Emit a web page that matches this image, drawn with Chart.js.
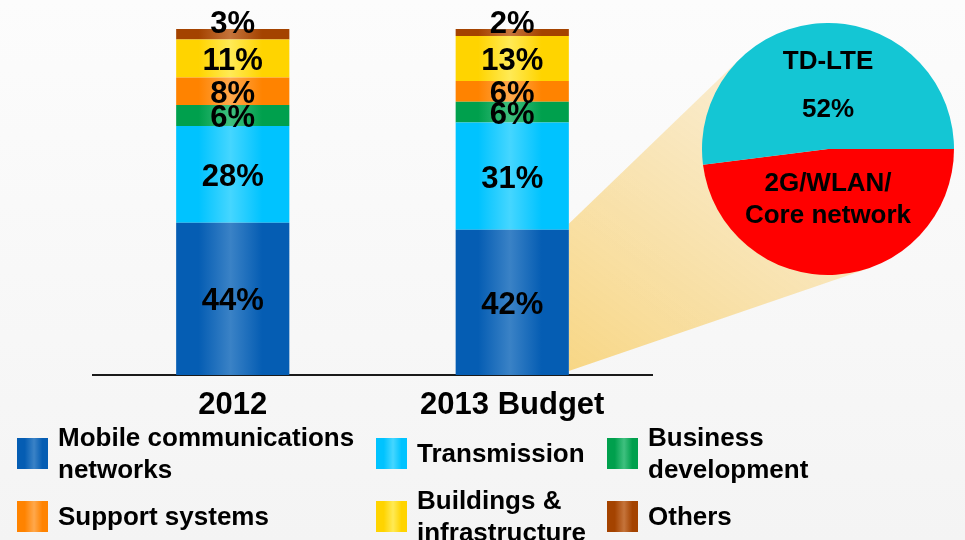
<!DOCTYPE html>
<html>
<head>
<meta charset="utf-8">
<script src="https://cdn.jsdelivr.net/npm/chart.js@4"></script>
<style>
  body {
    margin: 0;
    width: 965px;
    height: 540px;
    overflow: hidden;
    position: relative;
    background: linear-gradient(#fcfcfc, #f4f4f4);
    font-family: "Liberation Sans", Arial, sans-serif;
  }
  #barChart { position: absolute; left: 0; top: 0; z-index: 1; }
  #pieChart { position: absolute; left: 702px; top: 23px; z-index: 2; }
  #legend { position: absolute; left: 0; top: 0; width: 965px; height: 540px; z-index: 3; }
  .item {
    position: absolute;
    display: flex;
    align-items: center;
    height: 64px;
  }
  .swatch { width: 31px; height: 31px; margin-right: 10px; flex: none; }
  .text { font-weight: bold; font-size: 26px; line-height: 32px; color: #000; white-space: nowrap; }
</style>
</head>
<body>
<canvas id="barChart" width="965" height="430"></canvas>
<canvas id="pieChart" width="252" height="252"></canvas>
<div id="legend"></div>
<script>
const categories = ['2012', '2013 Budget'];

// share of total spend, % (stacked bottom to top)
const mobileNetworks = [44, 42];
const transmission = [28, 31];
const businessDev = [6, 6];
const supportSystems = [8, 6];
const buildings = [11, 13];
const others = [3, 2];

const seriesNames = [
  ['Mobile communications', 'networks'],
  ['Transmission'],
  ['Business', 'development'],
  ['Support systems'],
  ['Buildings &', 'infrastructure'],
  ['Others']
];

// breakdown of the 2013 mobile networks budget
const pieNames = [['2G/WLAN/', 'Core network'], ['TD-LTE']];
const pieShares = [48, 52];
const pieShowValue = [false, true];

// [edge, highlight] pairs for the shaded bars
const shades = [
  ['#055db3', '#3a82c6'],
  ['#00c3ff', '#45d6ff'],
  ['#00a04d', '#3fc07f'],
  ['#ff8300', '#ffa84c'],
  ['#ffd400', '#ffea55'],
  ['#a44300', '#c5743b']
];
const pieColors = ['#ff0000', '#14c6d4'];

const FONT = '"Liberation Sans", Arial, sans-serif';
const BAR_PCT = 0.405;

function barShade(edge, mid) {
  return function(ctx) {
    const chart = ctx.chart;
    const xs = chart.scales.x;
    if (!chart.chartArea || !xs || ctx.dataIndex === undefined) return edge;
    const cx = xs.getPixelForValue(ctx.dataIndex);
    const half = xs.width / categories.length * BAR_PCT / 2;
    const g = chart.ctx.createLinearGradient(cx - half, 0, cx + half, 0);
    g.addColorStop(0, edge);
    g.addColorStop(0.2, edge);
    g.addColorStop(0.48, mid);
    g.addColorStop(0.76, edge);
    g.addColorStop(1, edge);
    return g;
  };
}

// ---------- pie ----------
const pieLabelPlugin = {
  id: 'pieLabels',
  afterDatasetsDraw(chart) {
    const c = chart.ctx;
    const arcs = chart.getDatasetMeta(0).data;
    const gap = [32, 48];
    const shift = [-12, 0];
    c.save();
    c.font = 'bold 26px ' + FONT;
    c.fillStyle = '#000';
    c.textAlign = 'center';
    c.textBaseline = 'middle';
    arcs.forEach((arc, i) => {
      const p = arc.getCenterPoint();
      const lines = pieNames[i].slice();
      if (pieShowValue[i]) lines.push(pieShares[i] + '%');
      const y0 = p.y + shift[i] - (lines.length - 1) * gap[i] / 2;
      lines.forEach((t, k) => c.fillText(t, chart.chartArea.left + chart.chartArea.width / 2, y0 + k * gap[i]));
    });
    c.restore();
  }
};

const pieChart = new Chart(document.getElementById('pieChart'), {
  type: 'pie',
  data: {
    labels: pieNames.map(n => n.join(' ')),
    datasets: [{ data: pieShares, backgroundColor: pieColors, borderWidth: 0 }]
  },
  options: {
    responsive: false,
    animation: false,
    rotation: 90,
    layout: { padding: 0 },
    plugins: { legend: { display: false }, tooltip: { enabled: false } }
  },
  plugins: [pieLabelPlugin]
});

// ---------- stacked bars ----------
// pale beam from the 2013 mobile networks segment out to the pie
const beamPlugin = {
  id: 'beam',
  beforeDatasetsDraw(chart) {
    const bar = chart.getDatasetMeta(0).data[1];
    const arc = pieChart.getDatasetMeta(0).data[0];
    const canvas = pieChart.canvas;
    const cx = arc.x + canvas.offsetLeft;
    const cy = arc.y + canvas.offsetTop;
    const r = arc.outerRadius;
    const x0 = bar.x + bar.width / 2;
    const tangent = (px, py, sign) => {
      const d = Math.hypot(px - cx, py - cy);
      const a = Math.atan2(py - cy, px - cx) + sign * Math.acos(r / d);
      return [cx + r * Math.cos(a), cy + r * Math.sin(a)];
    };
    const t1 = tangent(x0, bar.y - 6, 1);
    const t2 = tangent(x0, bar.base - 4, -1);
    const c = chart.ctx;
    c.save();
    const g = c.createLinearGradient(x0, bar.base, cx, cy - r);
    g.addColorStop(0, 'rgba(247,212,126,0.95)');
    g.addColorStop(1, 'rgba(250,236,208,0.7)');
    c.fillStyle = g;
    c.beginPath();
    c.moveTo(x0, bar.y - 6);
    c.lineTo(t1[0], t1[1]);
    c.lineTo(cx, cy);
    c.lineTo(t2[0], t2[1]);
    c.lineTo(x0, bar.base - 4);
    c.closePath();
    c.fill();
    c.restore();
  }
};

const barLabelPlugin = {
  id: 'barLabels',
  afterDatasetsDraw(chart) {
    const c = chart.ctx;
    c.save();
    c.font = 'bold 31px ' + FONT;
    c.fillStyle = '#000';
    c.textAlign = 'center';
    c.textBaseline = 'middle';
    chart.data.datasets.forEach((ds, di) => {
      chart.getDatasetMeta(di).data.forEach((el, i) => {
        const v = ds.data[i];
        const y = v < 5 ? el.y - 5 : (el.y + el.base) / 2 + 3;
        c.fillText(v + '%', el.x, y);
      });
    });
    c.restore();
  }
};

const seriesData = [mobileNetworks, transmission, businessDev, supportSystems, buildings, others];

const barChart = new Chart(document.getElementById('barChart'), {
  type: 'bar',
  data: {
    labels: categories,
    datasets: seriesData.map((d, i) => ({
      label: seriesNames[i].join(' '),
      data: d,
      backgroundColor: barShade(shades[i][0], shades[i][1]),
      borderWidth: 0,
      barPercentage: BAR_PCT,
      categoryPercentage: 1
    }))
  },
  options: {
    responsive: false,
    animation: false,
    layout: { padding: { left: 93, right: 313, top: 29, bottom: 0 } },
    plugins: { legend: { display: false }, tooltip: { enabled: false } },
    scales: {
      x: {
        stacked: true,
        grid: { display: false },
        border: { display: true, color: '#1a1a1a', width: 2 },
        ticks: {
          color: '#000',
          padding: 4,
          font: { family: FONT, size: 31, weight: 'bold' }
        },
        afterFit(scale) { scale.height = 55; }
      },
      y: {
        stacked: true,
        display: false,
        min: 0,
        max: 100
      }
    }
  },
  plugins: [beamPlugin, barLabelPlugin]
});

// ---------- legend ----------
const legendCols = [17, 376, 607];
const legendRows = [421, 484];
const legend = document.getElementById('legend');
seriesNames.forEach((lines, i) => {
  const item = document.createElement('div');
  item.className = 'item';
  item.style.left = legendCols[i % 3] + 'px';
  item.style.top = legendRows[Math.floor(i / 3)] + 'px';
  const sw = document.createElement('div');
  sw.className = 'swatch';
  const [edge, mid] = shades[i];
  sw.style.background = `linear-gradient(90deg, ${edge} 0%, ${edge} 25%, ${mid} 55%, ${edge} 82%, ${edge} 100%)`;
  const tx = document.createElement('div');
  tx.className = 'text';
  tx.innerHTML = lines.map(l => l.replace('&', '&amp;')).join('<br>');
  item.appendChild(sw);
  item.appendChild(tx);
  legend.appendChild(item);
});
</script>
</body>
</html>
